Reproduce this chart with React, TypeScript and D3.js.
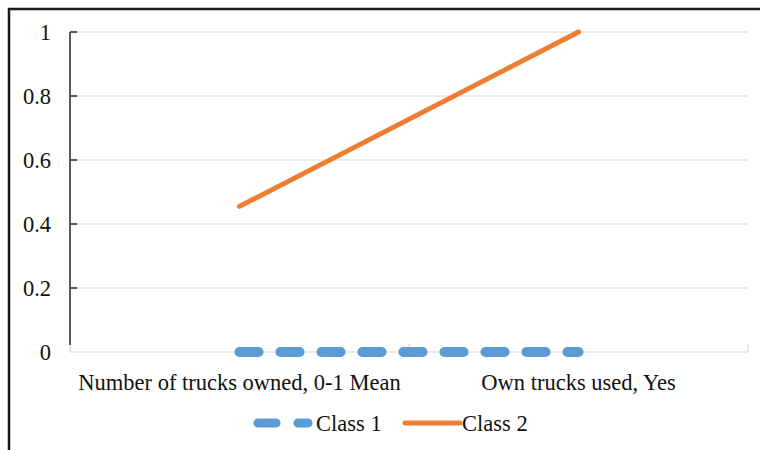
import * as d3 from 'd3';

const categories = ['Number of trucks owned, 0-1 Mean', 'Own trucks used, Yes'];
const class1 = [0, 0];
const class2 = [0.455, 1];
const yTicks = [0, 0.2, 0.4, 0.6, 0.8, 1];
const seriesNames = ['Class 1', 'Class 2'];

const W = 760;
const H = 450;
const left = 70, right = 748, top = 32, bottom = 352;
const font = '"Liberation Serif", "Times New Roman", serif';
const fs = 22.5;
const ink = '#111';
const blue = '#5B9BD5';
const orange = '#ED7D31';

export default function App() {
  const x = d3.scaleBand<string>().domain(categories).range([left, right]);
  const y = d3.scaleLinear().domain([0, 1]).range([bottom, top]);
  const cx = (c: string) => (x(c) ?? 0) + x.bandwidth() / 2;

  const line = d3.line<number>()
    .x((_, i) => cx(categories[i]))
    .y((d) => y(d));

  // category axis tick marks sit between the bands
  const catTicks = [left, ...categories.map((c) => (x(c) ?? 0) + x.bandwidth())];

  return (
    <svg width={W} height={H} style={{ position: 'absolute', left: 0, top: 0, background: '#fff' }}>
      <rect x={9} y={9} width={W + 20} height={H + 20} fill="#fff" stroke="#1a1a1a" strokeWidth={2.5} />

      {/* gridlines */}
      {yTicks.filter((t) => t > 0).map((t) => (
        <line key={t} x1={left} x2={right} y1={y(t)} y2={y(t)} stroke="#d9d9d9" strokeWidth={1} />
      ))}

      {/* category axis */}
      <line x1={left} x2={right} y1={bottom} y2={bottom} stroke="#d9d9d9" strokeWidth={1.2} />
      {catTicks.map((t, i) => (
        <line key={i} x1={t} x2={t} y1={bottom} y2={bottom - 8} stroke="#d9d9d9" strokeWidth={1.2} />
      ))}

      {/* value axis */}
      <line x1={left} x2={left} y1={top} y2={bottom - 7} stroke="#595959" strokeWidth={2} />
      {yTicks.filter((t) => t > 0).map((t) => (
        <line key={t} x1={left} x2={left + 7} y1={y(t)} y2={y(t)} stroke="#595959" strokeWidth={2} />
      ))}
      {yTicks.map((t) => (
        <text key={t} x={51} y={y(t)} dy="0.35em" textAnchor="end" fontFamily={font} fontSize={fs} fill={ink}>
          {d3.format('~g')(t)}
        </text>
      ))}

      {/* category labels */}
      {categories.map((c) => (
        <text key={c} x={cx(c)} y={382} dy="0.35em" textAnchor="middle" fontFamily={font} fontSize={fs} fill={ink}>
          {c}
        </text>
      ))}

      {/* series */}
      <path d={line(class1) ?? ''} fill="none" stroke={blue} strokeWidth={10} strokeLinecap="round" strokeDasharray="19,22" />
      <path d={line(class2) ?? ''} fill="none" stroke={orange} strokeWidth={5} strokeLinecap="round" />

      {/* legend */}
      <line x1={258} x2={308} y1={423} y2={423} stroke={blue} strokeWidth={9} strokeLinecap="round" strokeDasharray="18,22" />
      <text x={316} y={423} dy="0.35em" fontFamily={font} fontSize={fs} fill={ink}>{seriesNames[0]}</text>
      <line x1={405} x2={460} y1={423} y2={423} stroke={orange} strokeWidth={5} strokeLinecap="round" />
      <text x={462} y={423} dy="0.35em" fontFamily={font} fontSize={fs} fill={ink}>{seriesNames[1]}</text>
    </svg>
  );
}
